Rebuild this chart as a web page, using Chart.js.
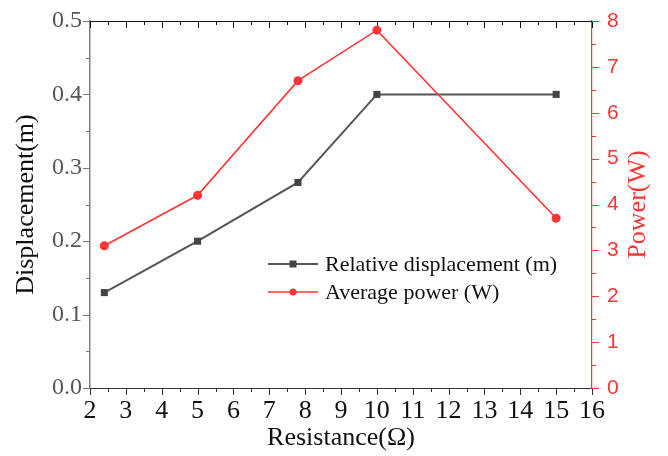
<!DOCTYPE html>
<html>
<head>
<meta charset="utf-8">
<script src="https://cdn.jsdelivr.net/npm/chart.js@4.4.1/dist/chart.umd.min.js"></script>
<style>
  html, body { margin: 0; padding: 0; background: #ffffff; }
  #wrap { width: 668px; height: 456px; }
</style>
</head>
<body>
<div id="wrap"><canvas id="c" width="668" height="456"></canvas></div>
<script>
// ---- data ----
const resistance = [2.4, 5, 7.8, 10, 15];
const displacement = [0.13, 0.2, 0.28, 0.4, 0.4];
const power = [3.1, 4.2, 6.7, 7.8, 3.7];
const xTicks = [2, 3, 4, 5, 6, 7, 8, 9, 10, 11, 12, 13, 14, 15, 16];
const leftTicks = [0.0, 0.1, 0.2, 0.3, 0.4, 0.5];
const rightTicks = [0, 1, 2, 3, 4, 5, 6, 7, 8];
const seriesNames = ['Relative displacement (m)', 'Average power (W)'];

const SERIF = '"Liberation Serif", "Times New Roman", serif';
const SANS = '"Liberation Sans", Arial, sans-serif';
const RED = '#ff3535';

const tickPlugin = {
  id: 'axisTicks',
  beforeDatasetsDraw(chart) {
    const { ctx, chartArea: a, scales } = chart;
    ctx.save();
    ctx.lineWidth = 1;
    ctx.strokeStyle = '#111';
    ctx.beginPath();
    ctx.moveTo(a.left, Math.round(a.top) + 0.5);
    ctx.lineTo(a.right, Math.round(a.top) + 0.5);
    ctx.stroke();
    const xs = scales.x;
    const x0 = xTicks[0], x1 = xTicks[xTicks.length - 1];
    for (let i = 0; i <= (x1 - x0) * 2; i++) {
      const v = x0 + i * 0.5;
      const major = i % 2 === 0;
      const p = Math.round(xs.getPixelForValue(v)) + 0.5;
      const len = major ? 7 : 4;
      ctx.strokeStyle = '#333';
      ctx.beginPath();
      ctx.moveTo(p, a.bottom); ctx.lineTo(p, a.bottom + len);
      ctx.stroke();
      ctx.strokeStyle = '#111';
      ctx.beginPath();
      ctx.moveTo(p, a.top); ctx.lineTo(p, a.top + len);
      ctx.stroke();
    }
    const ys = scales.y;
    const l0 = leftTicks[0], l1 = leftTicks[leftTicks.length - 1];
    ctx.strokeStyle = '#777';
    for (let i = 0; i <= Math.round((l1 - l0) / 0.05); i++) {
      const v = l0 + i * 0.05;
      const major = i % 2 === 0;
      const p = Math.round(ys.getPixelForValue(v)) + 0.5;
      const len = major ? 7 : 4;
      ctx.beginPath();
      ctx.moveTo(a.left, p); ctx.lineTo(a.left - len, p);
      ctx.stroke();
    }
    const rs = scales.y2;
    const r0 = rightTicks[0], r1 = rightTicks[rightTicks.length - 1];
    ctx.strokeStyle = RED;
    for (let i = 0; i <= (r1 - r0) * 2; i++) {
      const v = r0 + i * 0.5;
      const major = i % 2 === 0;
      const p = Math.round(rs.getPixelForValue(v)) + 0.5;
      const len = major ? 7 : 4;
      ctx.beginPath();
      ctx.moveTo(a.right, p); ctx.lineTo(a.right + len, p);
      ctx.stroke();
    }
    ctx.restore();
  },
  afterDraw(chart) {
    const { ctx, chartArea: a } = chart;
    ctx.save();
    ctx.fillStyle = RED;
    ctx.font = '26px ' + SERIF;
    ctx.textAlign = 'center';
    ctx.textBaseline = 'middle';
    ctx.translate(638, (a.top + a.bottom) / 2);
    ctx.rotate(-Math.PI / 2);
    ctx.fillText('Power(W)', 0, 0);
    ctx.restore();

    ctx.save();
    const lx = a.left + 178, tx = a.left + 235;
    const rows = [
      { y: a.top + 243, color: '#555', mk: '#444', shape: 'rect', w: 2 },
      { y: a.top + 271, color: RED, mk: RED, shape: 'circle', w: 1.6 }
    ];
    rows.forEach((r, i) => {
      ctx.strokeStyle = r.color;
      ctx.lineWidth = r.w;
      ctx.beginPath();
      ctx.moveTo(lx, r.y); ctx.lineTo(lx + 50, r.y);
      ctx.stroke();
      ctx.fillStyle = r.mk;
      if (r.shape === 'rect') {
        ctx.fillRect(lx + 25 - 3.5, r.y - 3.5, 7, 7);
      } else {
        ctx.beginPath(); ctx.arc(lx + 25, r.y, 3.5, 0, Math.PI * 2); ctx.fill();
      }
      ctx.fillStyle = '#111';
      ctx.font = '22px ' + SERIF;
      ctx.textAlign = 'left';
      ctx.textBaseline = 'middle';
      ctx.fillText(seriesNames[i], tx, r.y + 1);
    });
    ctx.restore();
  }
};

const bgPlugin = {
  id: 'bg',
  beforeDraw(chart) {
    const ctx = chart.ctx;
    ctx.save();
    ctx.fillStyle = '#ffffff';
    ctx.fillRect(0, 0, chart.width, chart.height);
    ctx.restore();
  }
};

function fixV(width) {
  return s => { s.width = width; s.paddingTop = 0; s.paddingBottom = 0; };
}

new Chart(document.getElementById('c'), {
  type: 'line',
  data: {
    datasets: [
      {
        label: seriesNames[0],
        data: resistance.map((r, i) => ({ x: r, y: displacement[i] })),
        yAxisID: 'y',
        borderColor: '#555555',
        borderWidth: 2,
        pointStyle: 'rect',
        pointRadius: 5,
        pointBackgroundColor: '#444444',
        pointBorderColor: '#444444',
        pointBorderWidth: 0,
        tension: 0,
        order: 1
      },
      {
        label: seriesNames[1],
        data: resistance.map((r, i) => ({ x: r, y: power[i] })),
        yAxisID: 'y2',
        borderColor: RED,
        borderWidth: 1.6,
        pointStyle: 'circle',
        pointRadius: 4.5,
        pointBackgroundColor: RED,
        pointBorderColor: RED,
        pointBorderWidth: 0,
        tension: 0,
        order: 0
      }
    ]
  },
  options: {
    responsive: false,
    animation: false,
    devicePixelRatio: 1,
    layout: { padding: { top: 21, left: 0, right: 0, bottom: 0 } },
    plugins: { legend: { display: false }, tooltip: { enabled: false } },
    scales: {
      x: {
        type: 'linear',
        position: 'bottom',
        min: xTicks[0],
        max: xTicks[xTicks.length - 1],
        afterBuildTicks: s => { s.ticks = xTicks.map(v => ({ value: v })); },
        afterFit: s => { s.height = 68; s.paddingLeft = 0; s.paddingRight = 0; },
        ticks: { color: '#111', font: { family: SERIF, size: 26 }, padding: 8, maxRotation: 0, autoSkip: false },
        grid: { display: false, drawTicks: false },
        border: { display: true, color: '#333', width: 1 },
        title: { display: true, text: 'Resistance(Ω)', color: '#111', font: { family: SERIF, size: 26 }, padding: { top: 0, bottom: 2 } }
      },
      y: {
        type: 'linear',
        position: 'left',
        min: leftTicks[0],
        max: leftTicks[leftTicks.length - 1],
        afterBuildTicks: s => { s.ticks = leftTicks.map(v => ({ value: v })); },
        afterFit: fixV(90),
        ticks: { color: '#555', font: { family: SERIF, size: 24 }, padding: 8, callback: v => Number(v).toFixed(1) },
        grid: { display: false, drawTicks: false },
        border: { display: true, color: '#808080', width: 1.5 },
        title: { display: true, text: 'Displacement(m)', color: '#111', font: { family: SERIF, size: 26 }, padding: { top: 11, bottom: 0 } }
      },
      y2: {
        type: 'linear',
        position: 'right',
        min: rightTicks[0],
        max: rightTicks[rightTicks.length - 1],
        afterBuildTicks: s => { s.ticks = rightTicks.map(v => ({ value: v })); },
        afterFit: fixV(76),
        ticks: { color: RED, font: { family: SANS, size: 21 }, padding: 15 },
        grid: { display: false, drawTicks: false },
        border: { display: true, color: RED, width: 1.2 },
        title: { display: false }
      }
    }
  },
  plugins: [bgPlugin, tickPlugin]
});
</script>
</body>
</html>
